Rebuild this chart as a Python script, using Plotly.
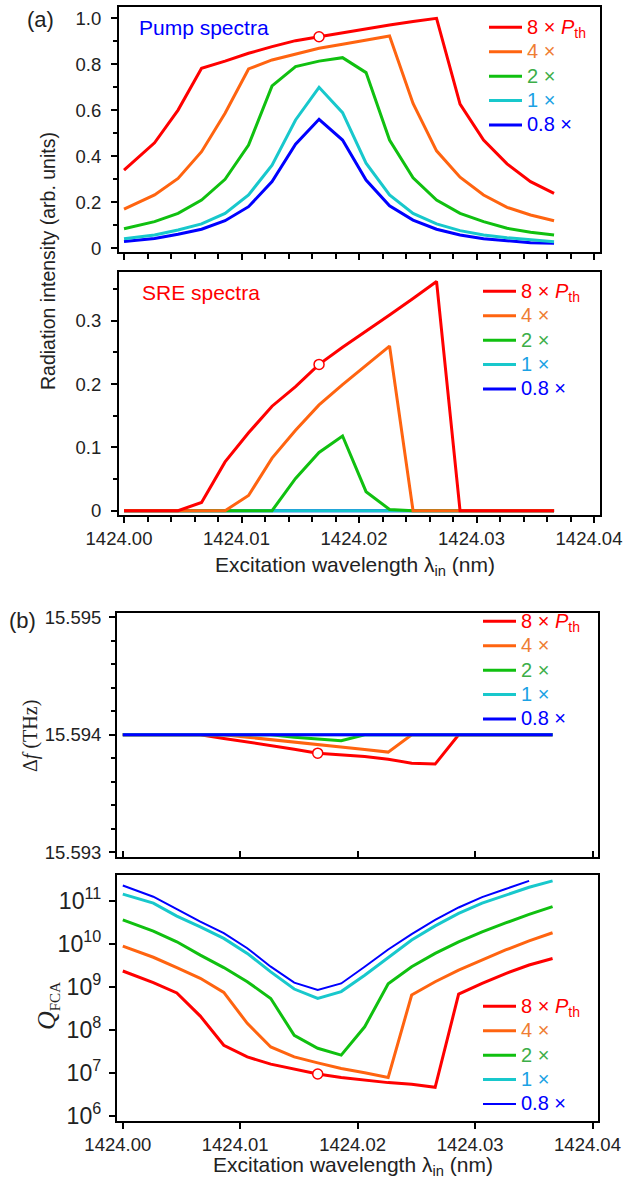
import plotly.graph_objects as go

# ---------------- data ----------------
wavelength = [1424.0000, 1424.0026, 1424.0046, 1424.0066, 1424.0086, 1424.0106,
              1424.0126, 1424.0146, 1424.0166, 1424.0186, 1424.0206, 1424.0226,
              1424.0246, 1424.0266, 1424.0286, 1424.0306, 1424.0326, 1424.0346,
              1424.0366]

x_tick_values = [1424.00, 1424.01, 1424.02, 1424.03, 1424.04]
x_tick_labels = ['1424.00', '1424.01', '1424.02', '1424.03', '1424.04']

series_labels = ['8 × <i>P</i><sub>th</sub>', '4 ×', '2 ×', '1 ×', '0.8 ×']

pump_8x = [0.340, 0.459, 0.601, 0.783, 0.814, 0.848, 0.877, 0.903, 0.920, 0.938,
           0.956, 0.971, 0.986, 1.000, 0.627, 0.471, 0.367, 0.290, 0.239]
pump_4x = [0.170, 0.232, 0.304, 0.420, 0.587, 0.780, 0.819, 0.845, 0.870, 0.887,
           0.906, 0.923, 0.630, 0.424, 0.309, 0.232, 0.178, 0.145, 0.120]
pump_2x = [0.085, 0.116, 0.152, 0.210, 0.300, 0.449, 0.706, 0.790, 0.814, 0.829,
           0.764, 0.471, 0.307, 0.210, 0.152, 0.116, 0.087, 0.070, 0.058]
pump_1x = [0.042, 0.058, 0.080, 0.106, 0.152, 0.232, 0.362, 0.558, 0.700, 0.590,
           0.370, 0.232, 0.152, 0.106, 0.077, 0.058, 0.046, 0.036, 0.029]
pump_08x = [0.030, 0.043, 0.061, 0.083, 0.120, 0.181, 0.290, 0.453, 0.561, 0.471,
            0.297, 0.185, 0.123, 0.083, 0.058, 0.042, 0.033, 0.024, 0.022]

sre_8x = [0, 0, 0, 0.013, 0.077, 0.123, 0.165, 0.196, 0.231, 0.258,
          0.283, 0.309, 0.335, 0.362, 0, 0, 0, 0, 0]
sre_4x = [0, 0, 0, 0, 0, 0.024, 0.083, 0.127, 0.167, 0.199,
          0.229, 0.260, 0, 0, 0, 0, 0, 0, 0]
sre_2x = [0, 0, 0, 0, 0, 0, 0, 0.051, 0.092, 0.118,
          0.030, 0.002, 0, 0, 0, 0, 0, 0, 0]
sre_1x = [0] * 19
sre_08x = [0] * 19

df_8x = [15.594, 15.594, 15.594, 15.594, 15.593969, 15.593940, 15.593909, 15.593878,
         15.593844, 15.593830, 15.593816, 15.593793, 15.593759, 15.593751,
         15.594, 15.594, 15.594, 15.594, 15.594]
df_4x = [15.594, 15.594, 15.594, 15.594, 15.594, 15.59398, 15.59396, 15.59394,
         15.593915, 15.593895, 15.593875, 15.593853, 15.594, 15.594, 15.594,
         15.594, 15.594, 15.594, 15.594]
df_2x = [15.594, 15.594, 15.594, 15.594, 15.594, 15.594, 15.594, 15.59398,
         15.593963, 15.593949, 15.594, 15.594, 15.594, 15.594, 15.594,
         15.594, 15.594, 15.594, 15.594]
df_1x = [15.594] * 19
df_08x = [15.594] * 19

# log10(Q_FCA)
logq_8x = [9.37, 9.10, 8.86, 8.32, 7.64, 7.37, 7.20, 7.08, 6.97, 6.89,
           6.83, 6.77, 6.73, 6.66, 8.83, 9.08, 9.31, 9.51, 9.66]
logq_4x = [9.95, 9.69, 9.45, 9.20, 8.87, 8.15, 7.60, 7.37, 7.23, 7.10,
           7.00, 6.89, 8.81, 9.12, 9.39, 9.62, 9.86, 10.07, 10.26]
logq_2x = [10.56, 10.30, 10.05, 9.74, 9.45, 9.12, 8.73, 7.87, 7.57, 7.41,
           8.07, 9.07, 9.47, 9.78, 10.05, 10.28, 10.49, 10.69, 10.87]
logq_1x = [11.16, 10.95, 10.65, 10.40, 10.13, 9.78, 9.35, 8.95, 8.73, 8.89,
           9.27, 9.69, 10.09, 10.42, 10.71, 10.95, 11.14, 11.32, 11.47]
logq_08x = [11.36, 11.10, 10.81, 10.52, 10.25, 9.90, 9.47, 9.10, 8.93, 9.08,
            9.47, 9.87, 10.23, 10.56, 10.85, 11.09, 11.28, 11.47]

marked_index = 8  # open circle on the 8 x Pth curve

# ---------------- styles ----------------
line_colors = ['#ff0000', '#ff6410', '#10c010', '#18c8cc', '#0000ff']
text_colors = ['#ff0000', '#ef7d32', '#3cae48', '#1ca2e4', '#0000ff']
FONT = 'Liberation Sans, Arial, sans-serif'
SERIF = 'Liberation Serif, Times New Roman, serif'
W, H = 624, 1184

fig = go.Figure()

def legend_name(i):
    return '<span style="color:%s;font-size:20px">%s</span>' % (text_colors[i], series_labels[i])

def add_panel(values, xa, ya, legend, order, widths, to_pow=False):
    for i in order:
        y = values[i]
        x = wavelength[:len(y)]
        if to_pow:
            y = [10 ** v for v in y]
        fig.add_trace(go.Scatter(x=x, y=y, mode='lines', name=legend_name(i),
                                 line=dict(color=line_colors[i], width=widths[i]),
                                 xaxis=xa, yaxis=ya, legend=legend, showlegend=True))
    yv = values[0][marked_index]
    if to_pow:
        yv = 10 ** yv
    fig.add_trace(go.Scatter(x=[wavelength[marked_index]], y=[yv], mode='markers',
                             marker=dict(size=10, color='white',
                                         line=dict(color=line_colors[0], width=1.5)),
                             xaxis=xa, yaxis=ya, showlegend=False))

rev = [4, 3, 2, 1, 0]
fwd = [0, 1, 2, 3, 4]
add_panel([pump_8x, pump_4x, pump_2x, pump_1x, pump_08x], 'x', 'y', 'legend', rev, [3, 3, 3, 3, 3])
add_panel([sre_8x, sre_4x, sre_2x, sre_1x, sre_08x], 'x2', 'y2', 'legend2', rev, [3, 3, 3, 3, 3])
add_panel([df_8x, df_4x, df_2x, df_1x, df_08x], 'x3', 'y3', 'legend3', fwd, [3, 3, 3, 3, 3])
add_panel([logq_8x, logq_4x, logq_2x, logq_1x, logq_08x], 'x4', 'y4', 'legend4', rev,
          [3, 3, 3, 3, 2], to_pow=True)

def px(x):
    return x / W

def py(y):
    return 1 - y / H

axis_common = dict(showline=True, linecolor='black', linewidth=2, mirror=True,
                   showgrid=False, zeroline=False, ticks='outside', tickwidth=2,
                   automargin=False, tickcolor='black',
                   tickfont=dict(family=FONT, size=18.5, color='#222'))

top_dom = [px(119), px(600)]
bot_dom = [px(117), px(597.5)]
top_xr = [1423.999574, 1424.040511]
bot_xr = [1423.999506, 1424.040426]

xminor = dict(dtick=0.002, tick0=1424, ticklen=5, tickwidth=2, tickcolor='black', ticks='outside')

layout = dict(
    width=W, height=H, margin=dict(l=0, r=0, t=0, b=0, autoexpand=False),
    paper_bgcolor='white', plot_bgcolor='white', showlegend=True,
    xaxis=dict(axis_common, domain=top_dom, range=top_xr, anchor='y', tick0=1424, dtick=0.01,
               ticklen=6, showticklabels=False, minor=xminor),
    yaxis=dict(axis_common, domain=[py(252), py(7.3)], range=[-0.016, 1.048], anchor='x',
               tickvals=[0, 0.2, 0.4, 0.6, 0.8, 1.0],
               ticktext=['0', '0.2', '0.4', '0.6', '0.8', '1.0'], ticklen=6,
               ticklabelstandoff=6,
               minor=dict(dtick=0.1, tick0=0, ticklen=4, tickwidth=2, tickcolor='black', ticks='outside')),
    xaxis2=dict(axis_common, domain=top_dom, range=top_xr, anchor='y2',
                tickvals=x_tick_values, ticktext=x_tick_labels, ticklen=6,
                ticklabelshift=-5, ticklabeloverflow='allow', minor=xminor),
    yaxis2=dict(axis_common, domain=[py(515), py(271.7)], range=[-0.0068, 0.3774], anchor='x2',
                tickvals=[0, 0.1, 0.2, 0.3], ticktext=['0', '0.1', '0.2', '0.3'], ticklen=6,
                ticklabelstandoff=6,
                minor=dict(dtick=0.05, tick0=0, ticklen=4, tickwidth=2, tickcolor='black', ticks='outside')),
    xaxis3=dict(axis_common, domain=bot_dom, range=bot_xr, anchor='y3', tick0=1424, dtick=0.01,
                ticks='inside', ticklen=6, showticklabels=False),
    yaxis3=dict(axis_common, domain=[py(856.7), py(612.7)], range=[15.592963, 15.595039],
                anchor='x3', tickvals=[15.593, 15.594, 15.595],
                ticktext=['15.593', '15.594', '15.595'], ticklen=6, ticklabelstandoff=4,
                minor=dict(dtick=0.0002, tick0=15.593, ticklen=4, tickwidth=2, tickcolor='black', ticks='outside')),
    xaxis4=dict(axis_common, domain=bot_dom, range=bot_xr, anchor='y4',
                tickvals=x_tick_values, ticktext=x_tick_labels, ticklen=6,
                ticklabelshift=-5, ticklabeloverflow='allow'),
    yaxis4=dict(axis_common, domain=[py(1120.7), py(875)], range=[5.883, 11.606], type='log',
                anchor='x4', dtick=1, exponentformat='power', ticklen=6, ticklabelstandoff=4),
)

def legend_box(x_left, y_top):
    return dict(x=px(x_left), y=py(y_top), xanchor='left', yanchor='top', xref='paper',
                yref='paper', bgcolor='rgba(0,0,0,0)', borderwidth=0, itemwidth=33,
                font=dict(family=FONT, size=16.5), tracegroupgap=0)

layout['legend'] = dict(legend_box(484, 10), traceorder='reversed')
layout['legend2'] = dict(legend_box(478, 274), traceorder='reversed')
layout['legend3'] = dict(legend_box(478, 604), traceorder='normal')
layout['legend4'] = dict(legend_box(478, 989), traceorder='reversed')

fig.update_layout(**layout)

def ann(text, x, y, size=18, color='#222', family=FONT, xanchor='center', angle=0):
    fig.add_annotation(text=text, x=px(x), y=py(y), xref='paper', yref='paper',
                       xanchor=xanchor, yanchor='middle', showarrow=False, textangle=angle,
                       font=dict(family=family, size=size, color=color))

ann('(a)', 40, 20, size=22)
ann('(b)', 22, 620, size=22)
ann('Pump spectra', 137, 27, size=21, color='#0000ff', xanchor='left')
ann('SRE spectra', 140, 292, size=21, color='#ff0000', xanchor='left')
ann('Radiation intensity (arb. units)', 48, 261, size=19.5, angle=-90)
ann('Excitation wavelength λ<sub>in</sub> (nm)', 355, 566, size=21)
ann('Excitation wavelength λ<sub>in</sub> (nm)', 353, 1166, size=21)
ann('Δ<i>f</i> (THz)', 30, 736, size=20, family=SERIF, angle=-90)
ann('<i>Q</i><sub><span style="font-size:15px">FCA</span></sub>', 47, 1006, size=26,
    family=SERIF, angle=-90)

fig.write_html('out.html')
